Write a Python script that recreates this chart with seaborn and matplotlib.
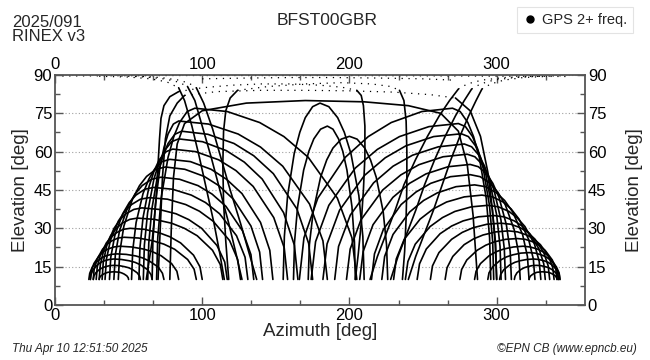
import numpy as np
import pandas as pd
import matplotlib
matplotlib.use("Agg")
import matplotlib.pyplot as plt
from matplotlib.ticker import MultipleLocator
from matplotlib.lines import Line2D
import seaborn as sns

# ---------------- data (azimuth / elevation in degrees) ----------------
left_arcs_az = [
    [30, 30.3, 31.2, 33, 34.5, 36, 38, 40, 42, 44, 45.5, 47, 48.8, 49.7, 50],
    [26, 26.4, 27.7, 30.2, 32.3, 34.4, 37.2, 40, 43.6, 47.2, 49.9, 52.6, 55.8, 57.5, 58],
    [24, 24.5, 25.9, 28.8, 31.2, 33.6, 36.8, 40, 45.2, 50.4, 54.3, 58.2, 62.9, 65.2, 66],
    [23, 23.6, 25.3, 28.7, 31.6, 34.4, 38.2, 42, 48.4, 54.8, 59.6, 64.4, 70.2, 73, 74],
    [24, 24.6, 26.4, 30, 33, 36, 40, 44, 52, 60, 66, 72, 79.2, 82.8, 84],
    [26, 26.6, 28.5, 32.3, 35.5, 38.6, 42.8, 47, 56.8, 66.6, 74, 81.3, 90.1, 94.5, 96],
    [28, 28.7, 30.8, 34.9, 38.4, 41.8, 46.4, 51, 60.8, 70.6, 78, 85.3, 94.1, 98.5, 100],
    [30, 30.8, 33.1, 37.8, 41.7, 45.6, 50.8, 56, 67.6, 79.2, 87.9, 96.6, 107, 112.3, 114],
    [32, 32.8, 35.2, 40.1, 44.2, 48.2, 53.6, 59, 70.6, 82.2, 90.9, 99.6, 110, 115.3, 117],
    [34, 34.9, 37.6, 43, 47.5, 52, 58, 64, 76.4, 88.8, 98.1, 107.4, 118.6, 124.1, 126],
    [37, 37.9, 40.6, 46, 50.5, 55, 61, 67, 79.8, 92.6, 102.2, 111.8, 123.3, 129.1, 131],
    [40, 41, 43.8, 49.6, 54.4, 59.2, 65.6, 72, 84.6, 97.2, 106.7, 116.1, 127.4, 133.1, 135],
    [43, 44, 46.8, 52.6, 57.4, 62.2, 68.6, 75, 88.2, 101.4, 111.3, 121.2, 133.1, 139, 141],
    [52, 52.8, 55.1, 59.8, 63.7, 67.6, 72.8, 78, 92, 106, 116.5, 127, 139.6, 145.9, 148],
    [57, 57.7, 59.8, 63.9, 67.4, 70.8, 75.4, 80, 95.6, 111.2, 122.9, 134.6, 148.6, 155.7, 158],
    [60, 60.7, 62.9, 67.2, 70.8, 74.4, 79.2, 84, 100.2, 116.4, 128.6, 140.7, 155.3, 162.6, 165],
    [63, 63.7, 65.8, 69.9, 73.4, 76.8, 81.4, 86, 103.8, 121.6, 135, 148.3, 164.3, 172.3, 175],
    [66, 66.5, 68.2, 71.4, 74.1, 76.8, 80.4, 84, 104.2, 124.4, 139.6, 154.7, 172.9, 182, 185],
    [69, 69.8, 72.1, 76.8, 80.7, 84.6, 89.8, 95, 117, 139, 155.5, 172, 191.8, 201.7, 205],
]
left_arcs_el = [
    [10, 10.7, 11.4, 12.1, 12.5, 12.8, 12.9, 13, 12.9, 12.8, 12.5, 12.1, 11.4, 10.7, 10],
    [10, 11.3, 12.6, 13.9, 14.6, 15, 15.4, 15.5, 15.4, 15, 14.6, 13.9, 12.6, 11.3, 10],
    [10, 11.9, 13.8, 15.7, 16.7, 17.3, 17.8, 18, 17.8, 17.3, 16.7, 15.7, 13.8, 11.9, 10],
    [10, 12.4, 14.8, 17.1, 18.4, 19.2, 19.8, 20, 19.8, 19.2, 18.4, 17.1, 14.8, 12.4, 10],
    [10, 13.2, 16.2, 19.3, 20.9, 21.9, 22.7, 23, 22.7, 21.9, 20.9, 19.3, 16.2, 13.2, 10],
    [10, 14, 17.8, 21.8, 23.8, 25.1, 26.2, 26.5, 26.2, 25.1, 23.8, 21.8, 17.8, 14, 10],
    [10, 14.9, 19.5, 24.3, 26.7, 28.3, 29.6, 30, 29.6, 28.3, 26.7, 24.3, 19.5, 14.9, 10],
    [10, 15.8, 21.4, 27.1, 30, 32, 33.5, 34, 33.5, 32, 30, 27.1, 21.4, 15.8, 10],
    [10, 16.8, 23.3, 30, 33.4, 35.7, 37.4, 38, 37.4, 35.7, 33.4, 30, 23.3, 16.8, 10],
    [10, 17.8, 25.2, 32.8, 36.7, 39.3, 41.4, 42, 41.4, 39.3, 36.7, 32.8, 25.2, 17.8, 10],
    [10, 18.7, 27.1, 35.7, 40.1, 43, 45.3, 46, 45.3, 43, 40.1, 35.7, 27.1, 18.7, 10],
    [10, 19.7, 29, 38.6, 43.4, 46.7, 49.2, 50, 49.2, 46.7, 43.4, 38.6, 29, 19.7, 10],
    [10, 20.7, 30.9, 41.4, 46.7, 50.3, 53.1, 54, 53.1, 50.3, 46.7, 41.4, 30.9, 20.7, 10],
    [10, 21.4, 32.3, 43.6, 49.2, 53.1, 56.1, 57, 56.1, 53.1, 49.2, 43.6, 32.3, 21.4, 10],
    [10, 22.4, 34.2, 46.4, 52.6, 56.8, 60, 61, 60, 56.8, 52.6, 46.4, 34.2, 22.4, 10],
    [10, 23.4, 36.1, 49.3, 55.9, 60.4, 63.9, 65, 63.9, 60.4, 55.9, 49.3, 36.1, 23.4, 10],
    [10, 24.1, 37.6, 51.4, 58.4, 63.2, 66.8, 68, 66.8, 63.2, 58.4, 51.4, 37.6, 24.1, 10],
    [10, 25.1, 39.5, 54.3, 61.8, 66.9, 70.8, 72, 70.8, 66.9, 61.8, 54.3, 39.5, 25.1, 10],
    [10, 26.3, 41.8, 57.8, 65.9, 71.4, 75.7, 77, 75.7, 71.4, 65.9, 57.8, 41.8, 26.3, 10],
]

right_arcs_az = [
    [322, 322.3, 323.1, 324.7, 326, 327.4, 329.2, 331, 333, 335, 336.5, 338, 339.8, 340.7, 341],
    [312, 312.5, 313.8, 316.5, 318.8, 321, 324, 327, 330, 333, 335.3, 337.5, 340.2, 341.6, 342],
    [302, 302.7, 304.8, 308.9, 312.4, 315.8, 320.4, 325, 328.6, 332.2, 334.9, 337.6, 340.8, 342.5, 343],
    [294, 294.8, 297.4, 302.4, 306.6, 310.8, 316.4, 322, 326.2, 330.4, 333.6, 336.7, 340.5, 342.4, 343],
    [285, 286, 289, 294.9, 299.9, 304.8, 311.4, 318, 322.8, 327.6, 331.2, 334.8, 339.1, 341.3, 342],
    [275, 276.2, 279.7, 286.7, 292.6, 298.4, 306.2, 314, 319.4, 324.8, 328.9, 332.9, 337.8, 340.2, 341],
    [265, 266.3, 270.2, 277.9, 284.4, 290.8, 299.4, 308, 314.2, 320.4, 325.1, 329.7, 335.3, 338.1, 339],
    [255, 256.4, 260.8, 269.4, 276.6, 283.8, 293.4, 303, 309.6, 316.2, 321.2, 326.1, 332, 335, 336],
    [246, 247.6, 252.2, 261.6, 269.4, 277.2, 287.6, 298, 305, 312, 317.3, 322.5, 328.8, 332, 333],
    [238, 239.7, 244.7, 254.8, 263.2, 271.6, 282.8, 294, 301.2, 308.4, 313.8, 319.2, 325.7, 328.9, 330],
    [230, 231.8, 237.2, 248, 257, 266, 278, 290, 297.2, 304.4, 309.8, 315.2, 321.7, 324.9, 326],
    [222, 223.9, 229.6, 240.9, 250.4, 259.8, 272.4, 285, 292.4, 299.8, 305.4, 310.9, 317.6, 320.9, 322],
    [215, 217, 223, 235.1, 245.2, 255.2, 268.6, 282, 288.8, 295.6, 300.7, 305.8, 311.9, 315, 316],
    [207, 209.3, 216, 229.5, 240.8, 252, 267, 282, 287.6, 293.2, 297.4, 301.6, 306.6, 309.2, 310],
    [198, 200.5, 207.8, 222.6, 234.9, 247.2, 263.6, 280, 285.2, 290.4, 294.3, 298.2, 302.9, 305.2, 306],
    [190, 192.6, 200.6, 216.4, 229.6, 242.8, 260.4, 278, 283, 288, 291.8, 295.5, 300, 302.3, 303],
    [182, 184.8, 193.3, 210.2, 224.3, 238.4, 257.2, 276, 280.8, 285.6, 289.2, 292.8, 297.1, 299.3, 300],
    [174, 177, 186, 204, 219, 234, 254, 274, 278.8, 283.6, 287.2, 290.8, 295.1, 297.3, 298],
    [166, 169.1, 178.5, 197.2, 212.8, 228.4, 249.2, 270, 275.2, 280.4, 284.3, 288.2, 292.9, 295.2, 296],
]
right_arcs_el = [
    [10, 10.7, 11.4, 12.1, 12.5, 12.8, 12.9, 13, 12.9, 12.8, 12.5, 12.1, 11.4, 10.7, 10],
    [10, 11.3, 12.6, 13.9, 14.6, 15, 15.4, 15.5, 15.4, 15, 14.6, 13.9, 12.6, 11.3, 10],
    [10, 11.9, 13.8, 15.7, 16.7, 17.3, 17.8, 18, 17.8, 17.3, 16.7, 15.7, 13.8, 11.9, 10],
    [10, 12.6, 15, 17.5, 18.8, 19.6, 20.3, 20.5, 20.3, 19.6, 18.8, 17.5, 15, 12.6, 10],
    [10, 13.2, 16.2, 19.3, 20.9, 21.9, 22.7, 23, 22.7, 21.9, 20.9, 19.3, 16.2, 13.2, 10],
    [10, 13.9, 17.6, 21.4, 23.4, 24.7, 25.7, 26, 25.7, 24.7, 23.4, 21.4, 17.6, 13.9, 10],
    [10, 14.6, 19, 23.6, 25.9, 27.4, 28.6, 29, 28.6, 27.4, 25.9, 23.6, 19, 14.6, 10],
    [10, 15.3, 20.5, 25.7, 28.4, 30.2, 31.6, 32, 31.6, 30.2, 28.4, 25.7, 20.5, 15.3, 10],
    [10, 16.1, 21.9, 27.9, 30.9, 32.9, 34.5, 35, 34.5, 32.9, 30.9, 27.9, 21.9, 16.1, 10],
    [10, 17, 23.8, 30.7, 34.2, 36.6, 38.4, 39, 38.4, 36.6, 34.2, 30.7, 23.8, 17, 10],
    [10, 18, 25.7, 33.6, 37.6, 40.3, 42.3, 43, 42.3, 40.3, 37.6, 33.6, 25.7, 18, 10],
    [10, 19, 27.6, 36.4, 40.9, 43.9, 46.3, 47, 46.3, 43.9, 40.9, 36.4, 27.6, 19, 10],
    [10, 20, 29.5, 39.3, 44.2, 47.6, 50.2, 51, 50.2, 47.6, 44.2, 39.3, 29.5, 20, 10],
    [10, 20.9, 31.4, 42.1, 47.6, 51.3, 54.1, 55, 54.1, 51.3, 47.6, 42.1, 31.4, 20.9, 10],
    [10, 21.9, 33.3, 45, 50.9, 54.9, 58, 59, 58, 54.9, 50.9, 45, 33.3, 21.9, 10],
    [10, 22.9, 35.2, 47.8, 54.3, 58.6, 61.9, 63, 61.9, 58.6, 54.3, 47.8, 35.2, 22.9, 10],
    [10, 23.9, 37.1, 50.7, 57.6, 62.3, 65.9, 67, 65.9, 62.3, 57.6, 50.7, 37.1, 23.9, 10],
    [10, 24.8, 39, 53.6, 60.9, 65.9, 69.8, 71, 69.8, 65.9, 60.9, 53.6, 39, 24.8, 10],
    [10, 26.3, 41.8, 57.8, 65.9, 71.4, 75.7, 77, 75.7, 71.4, 65.9, 57.8, 41.8, 26.3, 10],
]

center_arcs_az = [
    [155, 155.8, 158, 162.5, 166.3, 170, 175, 180, 186, 192, 196.5, 201, 206.4, 209.1, 210],
    [162, 162.7, 164.8, 168.9, 172.4, 175.8, 180.4, 185, 188.8, 192.6, 195.5, 198.3, 201.7, 203.4, 204],
    [172, 172.8, 175.4, 180.4, 184.6, 188.8, 194.4, 200, 205.2, 210.4, 214.3, 218.2, 222.9, 225.2, 226],
]
center_arcs_el = [
    [10, 26.8, 42.8, 59.3, 67.6, 73.3, 77.6, 79, 77.6, 73.3, 67.6, 59.3, 42.8, 26.8, 10],
    [10, 24.6, 38.5, 52.8, 60.1, 65, 68.8, 70, 68.8, 65, 60.1, 52.8, 38.5, 24.6, 10],
    [10, 23.6, 36.6, 50, 56.8, 61.4, 64.9, 66, 64.9, 61.4, 56.8, 50, 36.6, 23.6, 10],
]

# steep / near-zenith passes (solid parts, below ~85 deg)
steep_az = [
    [84, 88, 93, 98, 103, 108, 112, 115],
    [90, 95, 100, 106, 112, 118, 123, 127],
    [96, 101, 107, 113, 119, 126, 132, 137],
    [214, 219, 225, 231, 237, 245, 253, 261, 268, 274],
    [228, 233, 239, 245, 251, 258, 265, 272, 278, 283],
    [240, 245, 251, 257, 263, 269, 275, 281, 286, 290],
    [62, 66, 68.5, 70, 71, 72, 74, 78, 84],
    [205, 208, 209.5, 210.5, 210.5, 209.5, 208, 206, 204],
    [118, 116, 114.5, 114, 114.5, 116, 119, 124],
    [234, 237, 238.5, 239, 239, 238.5, 237.5, 236],
    [70, 71.5, 73, 75, 78, 83, 88],
    [272, 282, 289, 294, 297, 299, 300],
    [78, 79, 80.5, 83, 88, 100, 130, 170, 210, 240, 262, 274, 280, 284, 287],
]
steep_el = [
    [85, 80, 70, 58, 45, 32, 20, 10],
    [85.5, 80, 70, 58, 45, 32, 20, 10],
    [85, 79, 69, 57, 45, 32, 20, 10],
    [10, 19, 28, 37, 47, 57, 66, 74, 80, 84.5],
    [10, 19, 28, 37, 47, 57, 66, 74, 80, 84.5],
    [10, 19, 28, 37, 47, 57, 66, 74, 80, 84.5],
    [10, 25, 40, 55, 65, 73, 78, 81.5, 83.5],
    [84, 82, 78, 70, 58, 45, 32, 20, 10],
    [10, 25, 40, 55, 68, 76, 81, 84],
    [84, 80, 72, 60, 47, 34, 21, 10],
    [10, 30, 50, 65, 74, 79, 82],
    [81, 76, 66, 52, 38, 24, 10],
    [10, 30, 50, 63, 71, 76, 79, 80, 79.5, 78, 75, 68, 55, 35, 10],
]

# high-elevation parts (sparse samples, drawn dotted)
dotted_az = [
    [30, 50, 65, 76, 84],
    [45, 62, 75, 84, 90],
    [55, 72, 84, 91, 96],
    [274, 280, 290, 305, 325, 345],
    [283, 289, 298, 312, 330],
    [290, 296, 305, 318, 336],
    [84, 100, 120, 140, 160, 180, 195, 205],
    [124, 145, 170, 195, 215, 228, 234],
    [88, 110, 140, 170, 200, 230, 255, 272],
    [5, 40, 80, 120, 160, 200, 240, 280, 320, 350],
    [100, 130, 160, 190, 220, 250, 270],
]
dotted_el = [
    [89.5, 89.2, 88.5, 87.3, 85],
    [89.6, 89.2, 88.4, 87.2, 85.5],
    [89.6, 89, 88, 86.8, 85],
    [84.5, 86.5, 88, 89, 89.5, 89.7],
    [84.5, 86.5, 88, 89, 89.5],
    [84.5, 86.5, 88, 89, 89.5],
    [83.5, 85, 86, 86.5, 86.5, 86, 85.2, 84],
    [84, 85.5, 86.5, 87, 86.5, 85.5, 84],
    [82, 83.5, 84, 84, 83.8, 83.3, 82.3, 81],
    [89.6, 89.7, 89.8, 89.8, 89.8, 89.8, 89.7, 89.6, 89.5, 89.4],
    [88.5, 88.8, 89, 89, 88.8, 88.5, 88],
]

x_ticks = [0, 100, 200, 300]
y_ticks = [0, 15, 30, 45, 60, 75, 90]


def to_frame(az_lists, el_lists, prefix):
    rows = []
    for i, (az, el) in enumerate(zip(az_lists, el_lists)):
        for j, (a, e) in enumerate(zip(az, el)):
            rows.append({"track": f"{prefix}{i}", "order": j, "az": a, "el": e})
    return pd.DataFrame(rows)


solid = pd.concat([
    to_frame(left_arcs_az, left_arcs_el, "L"),
    to_frame(right_arcs_az, right_arcs_el, "R"),
    to_frame(center_arcs_az, center_arcs_el, "C"),
    to_frame(steep_az, steep_el, "S"),
], ignore_index=True)
dotted = to_frame(dotted_az, dotted_el, "D")

# ---------------- styling ----------------
sns.set_style("ticks")
plt.rcParams["font.family"] = ["Liberation Sans", "DejaVu Sans"]

fig = plt.figure(figsize=(6.5, 3.6), dpi=100)
ax = fig.add_axes([0.0846, 0.1528, 0.9 - 0.0846, 0.7917 - 0.1528])

sns.lineplot(data=solid, x="az", y="el", units="track", estimator=None, sort=False,
             color="black", linewidth=1.2, ax=ax, legend=False)
sns.lineplot(data=dotted, x="az", y="el", units="track", estimator=None, sort=False,
             color="black", linewidth=0.9, linestyle=(0, (1, 4.5)), ax=ax, legend=False)

ax.set_xlim(0, 360)
ax.set_ylim(0, 90)
ax.set_xticks(x_ticks)
ax.set_yticks(y_ticks)
ax.xaxis.set_minor_locator(MultipleLocator(100 / 3))
ax.yaxis.set_minor_locator(MultipleLocator(7.5))
ax.yaxis.grid(True, which="major", linestyle=(0, (1, 2)), color="#a0a0a0", linewidth=0.8)
ax.xaxis.grid(False)
ax.set_axisbelow(True)

spine_col = "#555555"
for s in ax.spines.values():
    s.set_visible(True)
    s.set_color(spine_col)
    s.set_linewidth(1.3)
ax.tick_params(which="both", direction="in", top=True, right=True,
               labeltop=True, labelright=True, color=spine_col, labelsize=12,
               labelcolor="black")
ax.tick_params(which="major", length=6, width=1.0, pad=2)
ax.tick_params(which="minor", length=3.5, width=1.0)

ax.set_xlabel("Azimuth [deg]", fontsize=13.5, labelpad=0)
ax.set_ylabel("Elevation [deg]", fontsize=13.5, labelpad=3)
fig.text(0.976, 0.4722, "Elevation [deg]", rotation=90, ha="center", va="center",
         fontsize=13.5)

fig.text(0.018, 0.925, "2025/091", fontsize=12, ha="left", va="baseline")
fig.text(0.018, 0.885, "RINEX v3", fontsize=12, ha="left", va="baseline")
fig.text(0.503, 0.93, "BFST00GBR", fontsize=12.5, ha="center", va="baseline")
fig.text(0.018, 0.022, "Thu Apr 10 12:51:50 2025", fontsize=8.5, style="italic",
         ha="left", va="baseline")
fig.text(0.98, 0.022, "\u00a9EPN CB (www.epncb.eu)", fontsize=8.5, style="italic",
         ha="right", va="baseline")

handle = Line2D([], [], marker="o", color="black", linestyle="", markersize=5)
leg = fig.legend(handles=[handle], labels=["GPS 2+ freq."], loc="upper right",
                 bbox_to_anchor=(0.985, 1.0), frameon=True, fancybox=False,
                 edgecolor="#dddddd", fontsize=10.5, handletextpad=0.3,
                 borderpad=0.4, handlelength=1.0)
leg.get_frame().set_linewidth(0.8)

fig.savefig("out.png", dpi=100)
